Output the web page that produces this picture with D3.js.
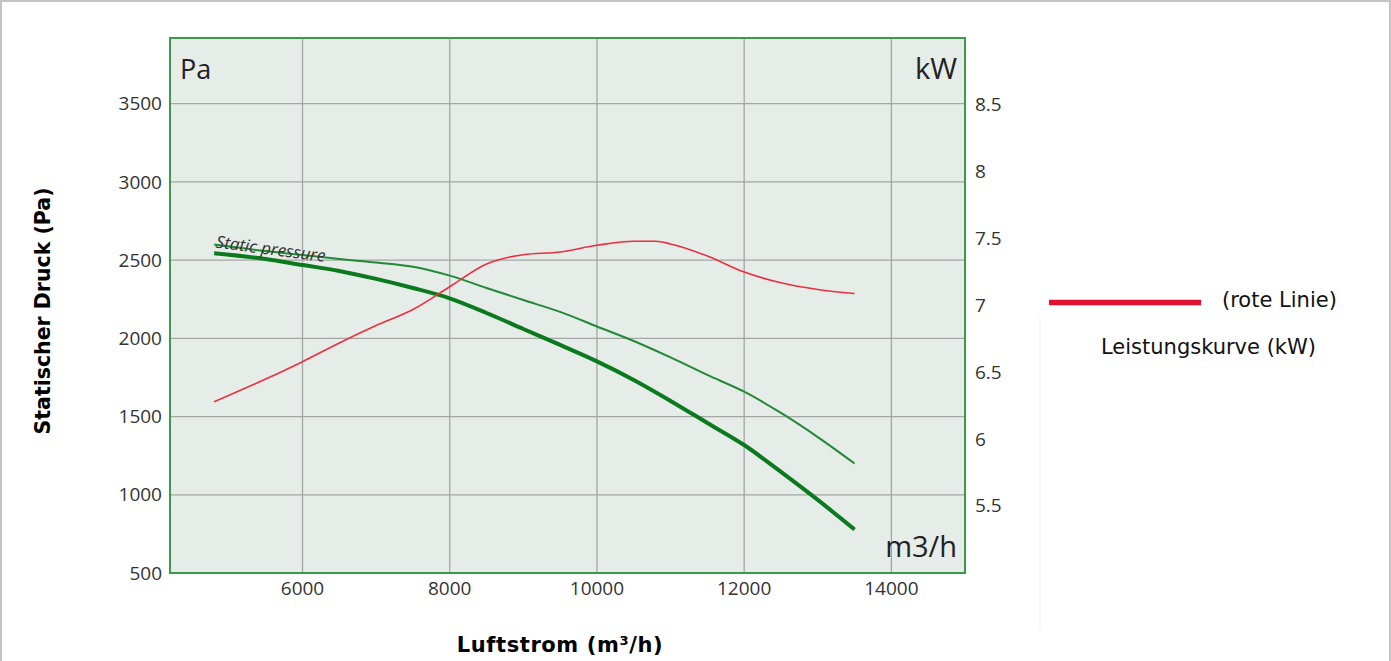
<!DOCTYPE html>
<html>
<head>
<meta charset="utf-8">
<script src="https://cdn.jsdelivr.net/npm/d3@7"></script>
<style>
  html, body { margin: 0; padding: 0; background: #fff; }
  svg { display: block; }
</style>
</head>
<body>
<div id="chart"></div>
<script>
// Data
const airflow = [4800, 5500, 6000, 6500, 7000, 7500, 8000, 8500, 9000, 9500, 10000, 10500, 11000, 11500, 12000, 12500, 13000, 13500];
const pressureUpper = [2600, 2558, 2533, 2507, 2485, 2458, 2401, 2322, 2245, 2169, 2076, 1983, 1878, 1766, 1659, 1523, 1369, 1200];
const pressureLower = [2544, 2507, 2469, 2431, 2380, 2322, 2256, 2162, 2060, 1958, 1853, 1734, 1600, 1459, 1318, 1146, 967, 778];
const powerAirflow = [4800, 5500, 6000, 6500, 7000, 7500, 8000, 8500, 9000, 9500, 10000, 10500, 10800, 11000, 11500, 12000, 12500, 13000, 13500];
const powerKw = [6.28, 6.45, 6.58, 6.72, 6.85, 6.97, 7.14, 7.31, 7.38, 7.40, 7.45, 7.48, 7.48, 7.46, 7.37, 7.25, 7.17, 7.12, 7.09];

const xTicks = [6000, 8000, 10000, 12000, 14000];
const paTicks = [500, 1000, 1500, 2000, 2500, 3000, 3500];
const kwTicks = [5.5, 6, 6.5, 7, 7.5, 8, 8.5];

const width = 1391;
const height = 661;

// Plot box
const plotLeft = 170, plotRight = 965, plotTop = 38, plotBottom = 573;

const svg = d3.select("#chart")
    .append("svg")
    .attr("width", width)
    .attr("height", height);

// outer frame of the page
svg.append("rect")
    .attr("x", 1).attr("y", 1)
    .attr("width", width - 2).attr("height", height + 10)
    .attr("fill", "none")
    .attr("stroke", "#c4c4c4")
    .attr("stroke-width", 2);

const x = d3.scaleLinear().domain([4200, 15000]).range([plotLeft, plotRight]);
const yPa = d3.scaleLinear().domain([500, 3920]).range([plotBottom, plotTop]);
const yKw = d3.scaleLinear().domain([5, 9]).range([plotBottom, plotTop]);

// background
svg.append("rect")
    .attr("x", plotLeft).attr("y", plotTop)
    .attr("width", plotRight - plotLeft).attr("height", plotBottom - plotTop)
    .attr("fill", "#e6ece8");

// grid
svg.append("g")
    .selectAll("line")
    .data(paTicks.filter(d => d > 500))
    .join("line")
    .attr("x1", plotLeft).attr("x2", plotRight)
    .attr("y1", d => yPa(d)).attr("y2", d => yPa(d))
    .attr("stroke", "#a3a6a4")
    .attr("stroke-width", 1.3);

svg.append("g")
    .selectAll("line")
    .data(xTicks)
    .join("line")
    .attr("x1", d => x(d)).attr("x2", d => x(d))
    .attr("y1", plotTop).attr("y2", plotBottom)
    .attr("stroke", "#a3a6a4")
    .attr("stroke-width", 1.3);

// border
svg.append("rect")
    .attr("x", plotLeft).attr("y", plotTop)
    .attr("width", plotRight - plotLeft).attr("height", plotBottom - plotTop)
    .attr("fill", "none")
    .attr("stroke", "#3c9a4e")
    .attr("stroke-width", 2);

// tick labels
const tickFont = "'Open Sans', sans-serif";

svg.append("g")
    .selectAll("text")
    .data(paTicks)
    .join("text")
    .attr("x", plotLeft - 8)
    .attr("y", d => yPa(d))
    .attr("dy", "0.35em")
    .attr("text-anchor", "end")
    .style("font-family", tickFont)
    .style("font-size", "19px")
    .style("fill", "#333")
    .text(d => d);

svg.append("g")
    .selectAll("text")
    .data(xTicks)
    .join("text")
    .attr("x", d => x(d))
    .attr("y", plotBottom + 22)
    .attr("text-anchor", "middle")
    .style("font-family", tickFont)
    .style("font-size", "19px")
    .style("fill", "#333")
    .text(d => d);

svg.append("g")
    .selectAll("text")
    .data(kwTicks)
    .join("text")
    .attr("x", plotRight + 10)
    .attr("y", d => yKw(d))
    .attr("dy", "0.33em")
    .attr("text-anchor", "start")
    .style("font-family", tickFont)
    .style("font-size", "19px")
    .style("fill", "#333")
    .text(d => d);

// unit labels inside the plot
svg.append("text")
    .attr("x", plotLeft + 10).attr("y", plotTop + 41)
    .style("font-family", tickFont).style("font-size", "27px").style("fill", "#222")
    .text("Pa");
svg.append("text")
    .attr("x", plotRight - 8).attr("y", plotTop + 41)
    .attr("text-anchor", "end")
    .style("font-family", tickFont).style("font-size", "29px").style("fill", "#222")
    .text("kW");
svg.append("text")
    .attr("x", plotRight - 8).attr("y", plotBottom - 16)
    .attr("text-anchor", "end")
    .style("font-family", tickFont).style("font-size", "29px").style("fill", "#222")
    .text("m3/h");

// curves
const linePa = d3.line()
    .x((d, i) => x(airflow[i]))
    .y(d => yPa(d))
    .curve(d3.curveMonotoneX);

const lineKw = d3.line()
    .x((d, i) => x(powerAirflow[i]))
    .y(d => yKw(d))
    .curve(d3.curveMonotoneX);

svg.append("path")
    .attr("d", linePa(pressureUpper))
    .attr("fill", "none")
    .attr("stroke", "#208a38")
    .attr("stroke-width", 2);

svg.append("path")
    .attr("d", linePa(pressureLower))
    .attr("fill", "none")
    .attr("stroke", "#0b7a1e")
    .attr("stroke-width", 4);

svg.append("path")
    .attr("d", lineKw(powerKw))
    .attr("fill", "none")
    .attr("stroke", "#ec2f3e")
    .attr("stroke-width", 1.6);

// curve label
svg.append("text")
    .attr("transform", `translate(${x(airflow[0]) + 1},${yPa(pressureUpper[0]) + 3}) rotate(7.5)`)
    .style("font-family", tickFont)
    .style("font-size", "17px")
    .style("font-style", "italic")
    .style("fill", "#333")
    .text("Static pressure");

// axis titles
svg.append("text")
    .attr("transform", `translate(50,311) rotate(-90)`)
    .attr("text-anchor", "middle")
    .style("font-family", "'DejaVu Sans', sans-serif")
    .style("font-weight", "bold")
    .style("font-size", "20.5px")
    .style("fill", "#000")
    .text("Statischer Druck (Pa)");

svg.append("text")
    .attr("x", 560).attr("y", 652)
    .attr("text-anchor", "middle")
    .style("font-family", "'DejaVu Sans', sans-serif")
    .style("font-weight", "bold")
    .style("font-size", "21px")
    .style("letter-spacing", "0.6px")
    .style("fill", "#000")
    .text("Luftstrom (m³/h)");

// legend
const legend = svg.append("g");
legend.append("line")
    .attr("x1", 1040).attr("x2", 1040)
    .attr("y1", 315).attr("y2", 630)
    .attr("stroke", "#f0f0f0")
    .attr("stroke-width", 1);
legend.append("line")
    .attr("x1", 1049).attr("x2", 1201)
    .attr("y1", 302.5).attr("y2", 302.5)
    .attr("stroke", "#e2112f")
    .attr("stroke-width", 5.5);
legend.append("text")
    .attr("x", 1222).attr("y", 300)
    .attr("dy", "0.35em")
    .style("font-family", "'DejaVu Sans', sans-serif")
    .style("font-size", "21px")
    .style("fill", "#111")
    .text("(rote Linie)");
legend.append("text")
    .attr("x", 1101).attr("y", 347)
    .attr("dy", "0.35em")
    .style("font-family", "'DejaVu Sans', sans-serif")
    .style("font-size", "21px")
    .style("fill", "#111")
    .text("Leistungskurve (kW)");
</script>
</body>
</html>
